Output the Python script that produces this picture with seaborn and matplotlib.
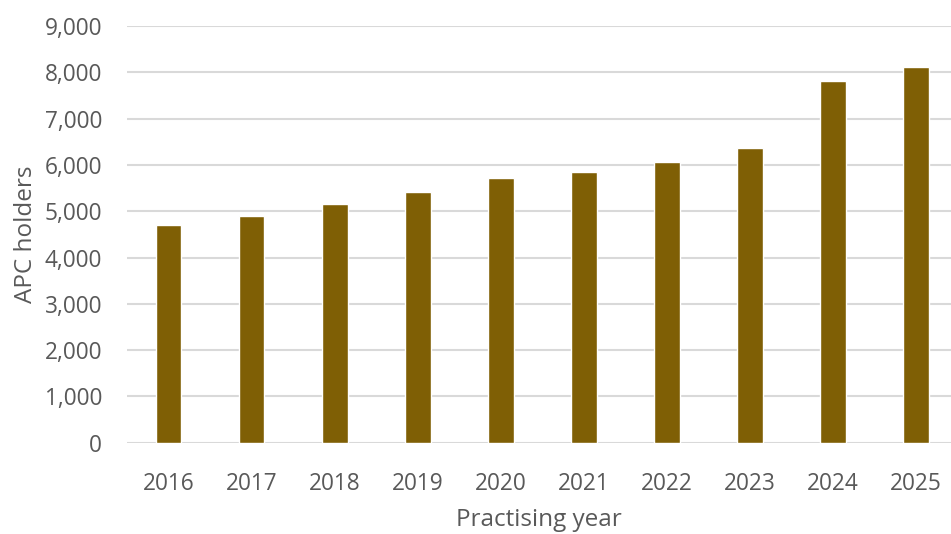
import matplotlib
matplotlib.use("Agg")
import matplotlib.pyplot as plt
import seaborn as sns
import pandas as pd
from matplotlib.ticker import FuncFormatter

years = ["2016", "2017", "2018", "2019", "2020", "2021", "2022", "2023", "2024", "2025"]
apc_holders = [4710, 4890, 5145, 5405, 5710, 5840, 6055, 6355, 7820, 8125]

df = pd.DataFrame({"year": years, "holders": apc_holders})

sns.set_theme(style="white")
plt.rcParams["font.family"] = ["Open Sans", "DejaVu Sans"]

text_color = "#595959"
bar_color = "#7f5f05"
tick_fs = 16.3
label_fs = 17.5

fig = plt.figure(figsize=(9.51, 5.34), dpi=100)
ax = fig.add_axes([127 / 951, (534 - 442.7) / 534, 1 - 127 / 951, (442.7 - 26) / 534])

sns.barplot(data=df, x="year", y="holders", color=bar_color, width=0.31,
            saturation=1, ax=ax, zorder=3)

ax.set_ylim(0, 9000)
ax.set_xlim(-0.5, 9.42)
ax.set_yticks(range(0, 9001, 1000))
ax.yaxis.set_major_formatter(FuncFormatter(lambda v, _: f"{int(v):,}"))
ax.grid(axis="y", color="#d9d9d9", linewidth=1.5, zorder=0)
ax.grid(axis="x", visible=False)
for s in ax.spines.values():
    s.set_visible(False)

ax.tick_params(axis="y", length=0, pad=18, labelsize=tick_fs, labelcolor=text_color)
ax.tick_params(axis="x", length=0, pad=21, labelsize=tick_fs, labelcolor=text_color)

ax.set_xlabel("Practising year", fontsize=label_fs, color=text_color, labelpad=9)
ax.set_ylabel("APC holders", fontsize=label_fs, color=text_color, labelpad=5)

fig.savefig("out.png", dpi=100)
